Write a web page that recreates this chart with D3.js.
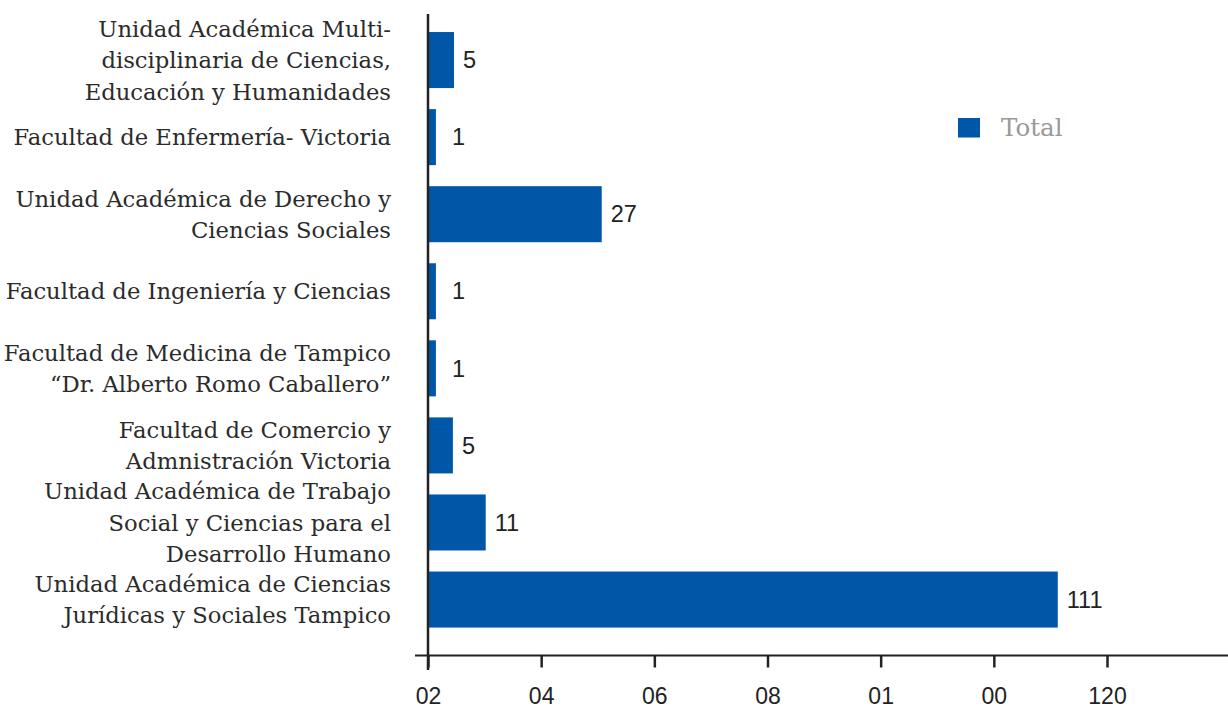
<!DOCTYPE html>
<html>
<head>
<meta charset="utf-8">
<script src="https://cdn.jsdelivr.net/npm/d3@7"></script>
<style>
  html, body { margin: 0; padding: 0; background: #fff; }
  svg { display: block; }
</style>
</head>
<body>
<svg id="chart" width="1228" height="708"></svg>
<script>
// ---- data ----
const categories = [
  ["Unidad Académica Multi-", "disciplinaria de Ciencias,", "Educación y Humanidades"],
  ["Facultad de Enfermería- Victoria"],
  ["Unidad Académica de Derecho y", "Ciencias Sociales"],
  ["Facultad de Ingeniería y Ciencias"],
  ["Facultad de Medicina de Tampico", "“Dr. Alberto Romo Caballero”"],
  ["Facultad de Comercio y", "Admnistración Victoria"],
  ["Unidad Académica de Trabajo", "Social y Ciencias para el", "Desarrollo Humano"],
  ["Unidad Académica de Ciencias", "Jurídicas y Sociales Tampico"]
];
// value labels printed next to each bar
const totals = [5, 1, 27, 1, 1, 5, 11, 111];
// bar lengths as drawn in the picture (axis units)
const barLengths = [4.6, 1.4, 30.7, 1.4, 1.4, 4.4, 10.2, 111.3];
const tickValues = [0, 20, 40, 60, 80, 100, 120];
const tickLabels = ["02", "04", "06", "08", "01", "00", "120"];
const seriesName = "Total";

// ---- setup ----
const svg = d3.select("#chart");
const barColor = "#0057a8";
const serif = "'DejaVu Serif', serif";
const sans = "'Liberation Sans', Arial, sans-serif";

const x = d3.scaleLinear().domain([0, 120]).range([428, 1107]);
const y = d3.scaleBand()
  .domain(d3.range(categories.length))
  .range([11, 648.6])
  .paddingInner(0.273)
  .paddingOuter(0.273);

// bars
svg.append("g").selectAll("rect")
  .data(barLengths)
  .join("rect")
  .attr("x", x(0))
  .attr("y", (d, i) => y(i))
  .attr("width", d => x(d) - x(0))
  .attr("height", y.bandwidth())
  .attr("fill", barColor);

// value labels
svg.append("g").selectAll("text")
  .data(totals)
  .join("text")
  .attr("x", (d, i) => Math.max(x(barLengths[i]) + 9, x(0) + 24))
  .attr("y", (d, i) => y(i) + y.bandwidth() / 2)
  .attr("dy", "0.35em")
  .attr("font-family", sans)
  .attr("font-size", 23.5)
  .attr("fill", "#222")
  .text(d => d);

// category labels
const lineH = 31.5;
const catG = svg.append("g");
categories.forEach((lines, i) => {
  const cy = y(i) + y.bandwidth() / 2;
  const t = catG.append("text")
    .attr("text-anchor", "end")
    .attr("font-family", serif)
    .attr("font-size", 22.7)
    .attr("fill", "#2b2b2b");
  lines.forEach((ln, j) => {
    t.append("tspan")
      .attr("x", 391)
      .attr("y", cy + (j - (lines.length - 1) / 2) * lineH)
      .attr("dy", "0.36em")
      .text(ln);
  });
});

// axes lines
const axisColor = "#222";
svg.append("line")
  .attr("x1", 428).attr("x2", 428)
  .attr("y1", 14).attr("y2", 670)
  .attr("stroke", axisColor).attr("stroke-width", 2.5);
svg.append("line")
  .attr("x1", 415).attr("x2", 1228)
  .attr("y1", 655.5).attr("y2", 655.5)
  .attr("stroke", axisColor).attr("stroke-width", 2);

// x axis ticks
const xAxis = d3.axisBottom(x)
  .tickValues(tickValues)
  .tickSize(12)
  .tickFormat((d, i) => tickLabels[i]);
const gx = svg.append("g")
  .attr("transform", "translate(0,655.5)")
  .call(xAxis);
gx.select(".domain").remove();
gx.selectAll(".tick line").attr("stroke", axisColor).attr("stroke-width", 2.5);
gx.selectAll(".tick text")
  .attr("y", 48.8)
  .attr("dy", 0)
  .attr("font-family", sans)
  .attr("font-size", 23)
  .attr("fill", "#222");

// legend
const lg = svg.append("g").attr("transform", "translate(958,118)");
lg.append("rect").attr("width", 22).attr("height", 19.5).attr("fill", barColor);
lg.append("text")
  .attr("x", 43).attr("y", 18)
  .attr("font-family", serif)
  .attr("font-size", 24.5)
  .attr("fill", "#999")
  .text(seriesName);
</script>
</body>
</html>
